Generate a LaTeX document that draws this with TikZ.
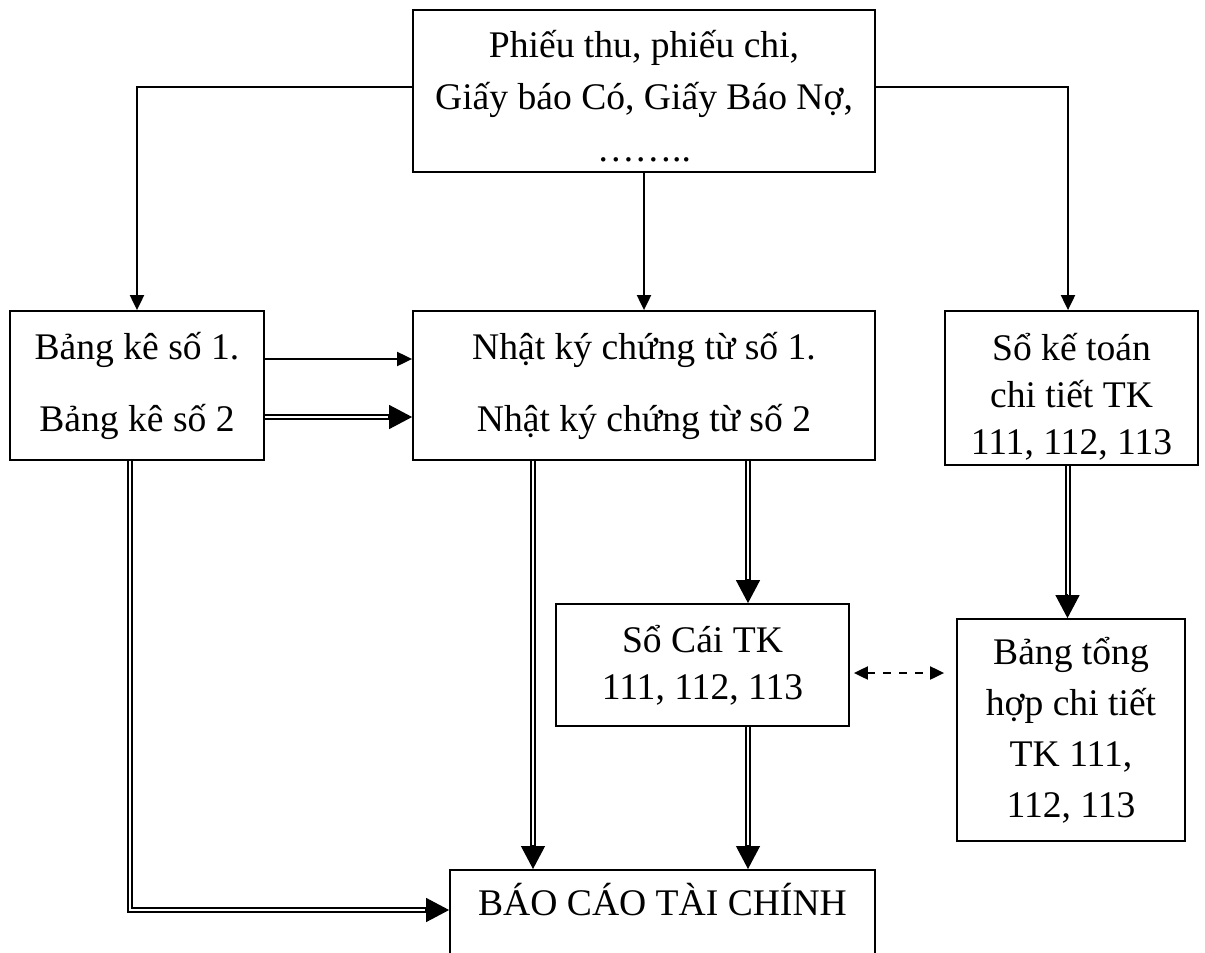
\documentclass[tikz,border=0pt]{standalone}
\usepackage{fontspec}
\setmainfont{Liberation Serif}
\usetikzlibrary{arrows.meta,calc}
\begin{document}
\begin{tikzpicture}[x=0.5pt,y=-0.5pt,
  box/.style={draw,line width=0.9pt,inner sep=0pt,align=center,font=\fontsize{18.8}{#1}\selectfont},
  sline/.style={line width=1pt,-{Triangle[length=7.5pt,width=7pt]}},
  dbl/.style={double,double distance=1pt,line width=1pt,shorten >=11pt},
  dtip/.style={line width=0.6pt,-{Triangle[length=11.5pt,width=12pt]}},
  dsh/.style={line width=1pt,dash pattern=on 4pt off 4pt,
    {Triangle[length=7pt,width=6.5pt]}-{Triangle[length=7pt,width=6.5pt]}}
]
\path[use as bounding box,clip] (0,0) rectangle (1205,953);

% boxes
\node[box=26,minimum width=231pt,minimum height=81pt] (top) at (644,91)
  {\rule{0pt}{18.5pt}Phiếu thu, phiếu chi,\\Giấy báo Có, Giấy Báo Nợ,\\……..};
\node[box=36,minimum width=127pt,minimum height=74.5pt] (lb) at (137,385.5)
  {Bảng kê số 1.\\Bảng kê số 2};
\node[box=36,minimum width=231pt,minimum height=74.5pt] (mid) at (644,385.5)
  {Nhật ký chứng từ số 1.\\Nhật ký chứng từ số 2};
\node[box=23.5,minimum width=126.5pt,minimum height=77pt] (rb) at (1071.5,388)
  {\rule{0pt}{22pt}Sổ kế toán\\chi tiết TK\\111, 112, 113};
\node[box=23.5,minimum width=146.5pt,minimum height=61pt] (sc) at (702.5,665)
  {Sổ Cái TK\\111, 112, 113};
\node[box=25.5,minimum width=114pt,minimum height=111pt] (th) at (1071,730)
  {Bảng tổng\\hợp chi tiết\\TK 111,\\112, 113};
\node[box=20,minimum width=212.5pt,text height=23pt,text depth=45pt,anchor=north] (bc) at (662.5,869)
  {BÁO CÁO TÀI CHÍNH};

% single arrows
\draw[sline] ([yshift=2pt]top.west) -| (lb.north);
\draw[sline] ([yshift=2pt]top.east) -| ([xshift=-1.75pt]rb.north);
\draw[sline] (top.south) -- (mid.north);
\draw[sline] ([yshift=13.25pt]lb.east) -- ([yshift=13.25pt]mid.west);

% double arrows: helper coordinates
\coordinate (a0) at ([yshift=-15.75pt]lb.east);
\coordinate (a1) at ([yshift=-15.75pt]mid.west);
\coordinate (b0) at ([xshift=-3.5pt]lb.south);
\coordinate (b1) at ([yshift=-20.5pt]bc.north west);
\coordinate (c0) at ([xshift=-55.5pt]mid.south);
\coordinate (c1) at (c0 |- bc.north);
\coordinate (d0) at ([xshift=52pt]mid.south);
\coordinate (d1) at (d0 |- sc.north);
\coordinate (e0) at (d0 |- sc.south);
\coordinate (e1) at (d0 |- bc.north);
\coordinate (f0) at ([xshift=-2pt]rb.south);
\coordinate (f1) at (f0 |- th.north);

\draw[dbl] (a0) -- (a1);
\draw[dtip] ($(a1)+(-24,0)$) -- (a1);
\draw[dbl] (b0) |- (b1);
\draw[dtip] ($(b1)+(-24,0)$) -- (b1);
\draw[dbl] (c0) -- (c1);
\draw[dtip] ($(c1)+(0,-24)$) -- (c1);
\draw[dbl] (d0) -- (d1);
\draw[dtip] ($(d1)+(0,-24)$) -- (d1);
\draw[dbl] (e0) -- (e1);
\draw[dtip] ($(e1)+(0,-24)$) -- (e1);
\draw[dbl] (f0) -- (f1);
\draw[dtip] ($(f1)+(0,-24)$) -- (f1);

% dashed two-way arrow
\coordinate (g0) at ([yshift=-4pt]sc.east);
\draw[dsh,shorten <=2pt,shorten >=6pt] (g0) -- (g0 -| th.west);
\end{tikzpicture}
\end{document}
